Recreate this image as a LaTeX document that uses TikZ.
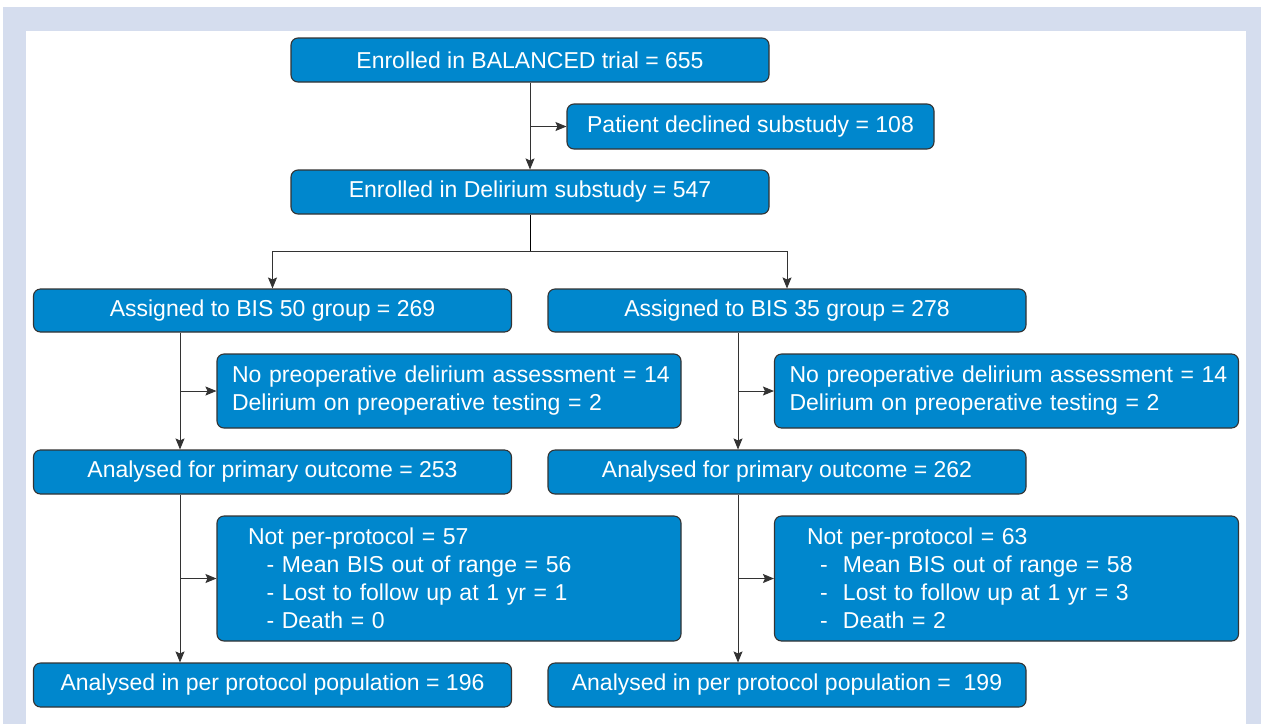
\documentclass[tikz,border=0pt]{standalone}
\usepackage{fontspec}
\setmainfont{Liberation Sans}
\usepackage{xcolor}
\usetikzlibrary{arrows.meta}
\definecolor{boxblue}{HTML}{0087CD}
\definecolor{framebg}{HTML}{D5DDEE}
\definecolor{edgegray}{HTML}{333333}

\begin{document}
\begin{tikzpicture}[x=1pt, y=-1pt,
    box/.style={draw=edgegray, line width=1.1pt, rounded corners=7pt,
                fill=boxblue, text=white, font=\fontsize{23}{28}\selectfont,
                inner sep=0pt, minimum height=44pt, minimum width=478pt},
    notebox/.style={box, text width=449pt, align=left, inner xsep=7.5pt,
                    minimum width=464pt},
    arrow/.style={draw=edgegray, line width=0.9pt,
                  -{Stealth[length=11pt, width=9pt, inset=2pt]}}]
    \useasboundingbox (0,0) rectangle (1261,724);
    \fill[framebg] (3,7) rectangle (1261,724);
    \fill[white] (26,31) rectangle (1246,724);

    \node[box] (bal) at (530,60) {Enrolled in BALANCED trial = 655};
    \node[box, minimum width=367pt, minimum height=45pt] (decl) at (750.5,126.5)
        {Patient declined substudy = 108};
    \node[box] (del) at (530,192) {Enrolled in Delirium substudy = 547};

    \node[box, minimum height=43pt] (g50) at (272.5,310.5) {Assigned to BIS 50 group = 269};
    \node[box, minimum height=43pt] (g35) at (787,310.5) {Assigned to BIS 35 group = 278};

    \node[notebox, minimum height=74pt] (ex50) at (449,391)
        {\hspace*{7.5pt}No preoperative delirium assessment = 14\\
         \hspace*{7.5pt}Delirium on preoperative testing = 2};
    \node[notebox, minimum height=74pt] (ex35) at (1006.5,391)
        {\hspace*{7.5pt}No preoperative delirium assessment = 14\\
         \hspace*{7.5pt}Delirium on preoperative testing = 2};

    \node[box] (an50) at (272.5,472) {Analysed for primary outcome = 253};
    \node[box] (an35) at (787,472) {Analysed for primary outcome = 262};

    \node[notebox, minimum height=125pt] (np50) at (449,578.5)
        {\hspace*{23.5pt}Not per-protocol = 57\\
         \hspace*{42pt}- Mean BIS out of range = 56\\
         \hspace*{42pt}- Lost to follow up at 1 yr = 1\\
         \hspace*{42pt}- Death = 0};
    \node[notebox, minimum height=125pt] (np35) at (1006.5,578.5)
        {\hspace*{25pt}Not per-protocol = 63\\
         \hspace*{38pt}-~~Mean BIS out of range = 58\\
         \hspace*{38pt}-~~Lost to follow up at 1 yr = 3\\
         \hspace*{38pt}-~~Death = 2};

    \node[box] (pp50) at (272.5,685) {Analysed in per protocol population = 196};
    \node[box] (pp35) at (787,685) {Analysed in per protocol population =~~199};

    \coordinate (split) at (530,251);
    \coordinate (l50) at (180,0);
    \coordinate (l35) at (738,0);

    \draw[arrow] (bal.south) -- (del.north);
    \draw[arrow] (bal.south |- decl.west) -- (decl.west);
    \draw (del.south) -- (split);
    \draw[arrow] (split) -| (g50.north);
    \draw[arrow] (split) -| (g35.north);

    \draw[arrow] (g50.south -| l50) -- (an50.north -| l50);
    \draw[arrow] (ex50.west -| l50) -- (ex50.west);
    \draw[arrow] (an50.south -| l50) -- (pp50.north -| l50);
    \draw[arrow] (np50.west -| l50) -- (np50.west);

    \draw[arrow] (g35.south -| l35) -- (an35.north -| l35);
    \draw[arrow] (ex35.west -| l35) -- (ex35.west);
    \draw[arrow] (an35.south -| l35) -- (pp35.north -| l35);
    \draw[arrow] (np35.west -| l35) -- (np35.west);
\end{tikzpicture}
\end{document}
